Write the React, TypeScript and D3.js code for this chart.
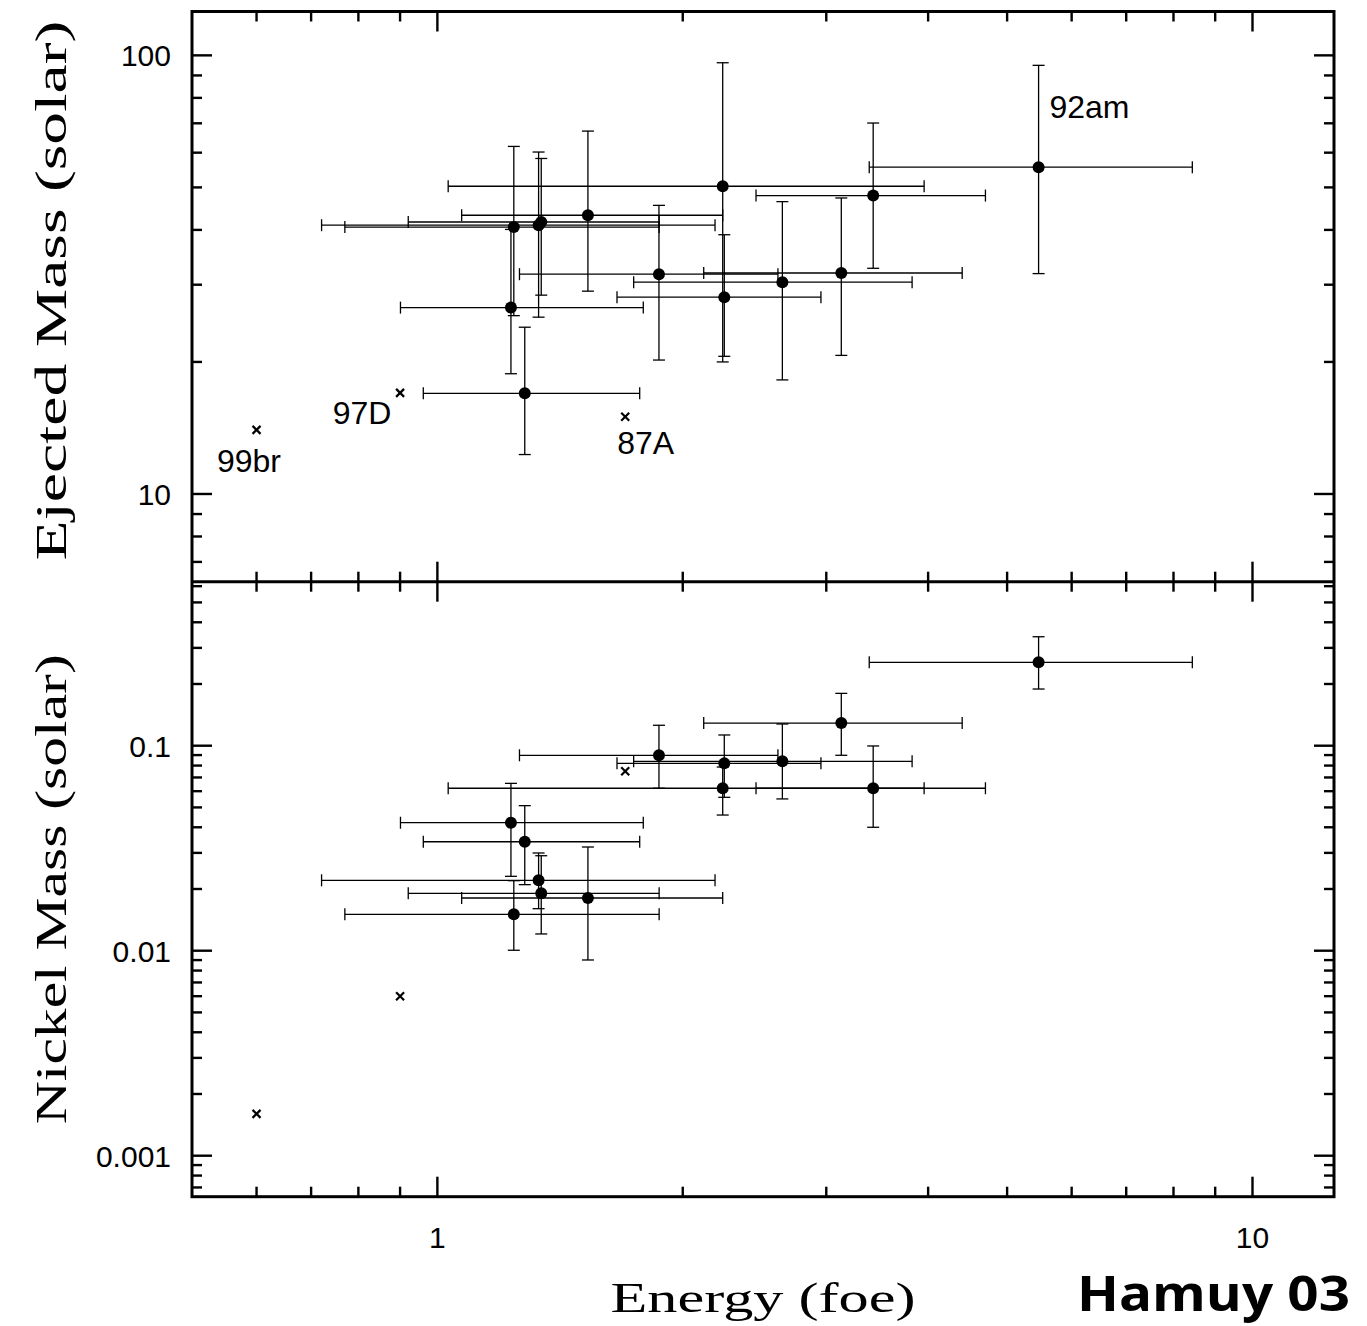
import React from "react";
import * as d3 from "d3";

// ---- Data ----
const energy = [1.241, 1.231, 1.331, 1.341, 1.53, 1.28, 1.87, 2.239, 2.249, 2.65, 3.13, 3.425, 5.465];
const energyLo = [0.77, 0.901, 0.721, 0.921, 1.071, 0.961, 1.261, 1.031, 1.661, 1.741, 2.122, 2.46, 3.387];
const energyHi = [1.871, 1.789, 2.191, 1.871, 2.239, 1.771, 2.617, 3.955, 2.955, 3.823, 4.404, 4.703, 8.437];
const ejMass = [40.6, 26.6, 41.0, 41.7, 43.2, 16.96, 31.7, 50.3, 28.1, 30.4, 31.9, 47.9, 55.6];
const ejMassLo = [25.5, 18.8, 25.3, 28.4, 29.0, 12.3, 20.2, 20.0, 20.6, 18.2, 20.7, 32.7, 31.8];
const ejMassHi = [62.0, 40.1, 60.2, 58.2, 67.2, 24.0, 45.5, 96.2, 39.0, 46.4, 47.3, 70.1, 94.9];
const niMass = [0.01505, 0.0421, 0.02205, 0.01905, 0.01807, 0.034, 0.0898, 0.062, 0.082, 0.0839, 0.129, 0.062, 0.255];
const niLo = [0.01005, 0.02306, 0.01603, 0.01207, 0.00901, 0.021, 0.062, 0.0459, 0.056, 0.055, 0.0898, 0.04, 0.189];
const niHi = [0.02196, 0.0655, 0.02997, 0.02906, 0.03205, 0.051, 0.1258, 0.0787, 0.1128, 0.1276, 0.18, 0.0997, 0.34];

const specialNames = ["99br", "97D", "87A"];
const specialEnergy = [0.6, 0.9, 1.7];
const specialEj = [14, 17, 15];
const specialNi = [0.0016, 0.006, 0.075];

const xTickLabels = ["1", "10"];
const xTickValues = [1, 10];
const ejTickLabels = ["10", "100"];
const ejTickValues = [10, 100];
const niTickLabels = ["0.1", "0.01", "0.001"];
const niTickValues = [0.1, 0.01, 0.001];

// ---- Layout ----
const W = 1367;
const H = 1326;
const L = 192;
const R = 1334;
const T = 11.5;
const MID = 581.7;
const B = 1196.7;

const x = d3.scaleLog().domain([0.5, Math.pow(10, 1.1)]).range([L, R]);
const yTop = d3.scaleLog().domain([Math.pow(10, 0.8), Math.pow(10, 2.1)]).range([MID, T]);
const yBot = d3.scaleLog().domain([Math.pow(10, -3.2), Math.pow(10, -0.2)]).range([B, MID]);

function logTicks(domain: number[]) {
  const [a, b] = domain;
  const out: { v: number; major: boolean }[] = [];
  for (let k = Math.floor(Math.log10(a)) - 1; k <= Math.ceil(Math.log10(b)); k++) {
    for (let m = 1; m <= 9; m++) {
      const v = m * Math.pow(10, k);
      if (v >= a * 1.0001 && v <= b * 0.9999) out.push({ v, major: m === 1 });
    }
  }
  return out;
}

const MAJ = 20;
const MIN = 10;
const FONT = "'Liberation Sans', Arial, Helvetica, sans-serif";
const TITLEFONT = "'Liberation Serif', 'DejaVu Serif', serif";

function Panel({ y, top, bottom }: { y: any; top: number; bottom: number }) {
  const xt = logTicks(x.domain());
  const yt = logTicks(y.domain());
  return (
    <g>
      {xt.map((t, i) => (
        <g key={"x" + i} stroke="#000" strokeWidth={2.4}>
          <line x1={x(t.v)} x2={x(t.v)} y1={top} y2={top + (t.major ? MAJ : MIN)} />
          <line x1={x(t.v)} x2={x(t.v)} y1={bottom} y2={bottom - (t.major ? MAJ : MIN)} />
        </g>
      ))}
      {yt.map((t, i) => (
        <g key={"y" + i} stroke="#000" strokeWidth={2.4}>
          <line x1={L} x2={L + (t.major ? MAJ : MIN)} y1={y(t.v)} y2={y(t.v)} />
          <line x1={R} x2={R - (t.major ? MAJ : MIN)} y1={y(t.v)} y2={y(t.v)} />
        </g>
      ))}
    </g>
  );
}

function ErrorBars({ y, vals, lo, hi }: { y: any; vals: number[]; lo: number[]; hi: number[] }) {
  const cap = 6;
  return (
    <g stroke="#000" strokeWidth={1.3} fill="none">
      {energy.map((e, i) => {
        const cx = x(e);
        const cy = y(vals[i]);
        const x0 = x(energyLo[i]);
        const x1 = x(energyHi[i]);
        const y0 = y(lo[i]);
        const y1 = y(hi[i]);
        return (
          <g key={i}>
            <line x1={x0} x2={x1} y1={cy} y2={cy} />
            <line x1={x0} x2={x0} y1={cy - cap} y2={cy + cap} />
            <line x1={x1} x2={x1} y1={cy - cap} y2={cy + cap} />
            <line x1={cx} x2={cx} y1={y0} y2={y1} />
            <line x1={cx - cap} x2={cx + cap} y1={y0} y2={y0} />
            <line x1={cx - cap} x2={cx + cap} y1={y1} y2={y1} />
          </g>
        );
      })}
      {energy.map((e, i) => (
        <circle key={"c" + i} cx={x(e)} cy={y(vals[i])} r={6} fill="#000" stroke="none" />
      ))}
    </g>
  );
}

function Cross({ cx, cy }: { cx: number; cy: number }) {
  const s = 4;
  return (
    <g stroke="#000" strokeWidth={2.2}>
      <line x1={cx - s} x2={cx + s} y1={cy - s} y2={cy + s} />
      <line x1={cx - s} x2={cx + s} y1={cy + s} y2={cy - s} />
    </g>
  );
}

const labelOffsets = [
  { dx: -39.6, dy: 42, anchor: "start" },
  { dx: -8.7, dy: 31, anchor: "end" },
  { dx: -8, dy: 37, anchor: "start" },
];

export default function App() {
  return (
    <svg
      width={W}
      height={H}
      viewBox={`0 0 ${W} ${H}`}
      style={{ display: "block", position: "absolute", left: 0, top: 0, background: "#fff" }}
    >
      <rect x={0} y={0} width={W} height={H} fill="#fff" />
      <Panel y={yTop} top={T} bottom={MID} />
      <Panel y={yBot} top={MID} bottom={B} />

      <ErrorBars y={yTop} vals={ejMass} lo={ejMassLo} hi={ejMassHi} />
      <ErrorBars y={yBot} vals={niMass} lo={niLo} hi={niHi} />

      {specialEnergy.map((e, i) => (
        <g key={"s" + i}>
          <Cross cx={x(e)} cy={yTop(specialEj[i])} />
          <Cross cx={x(e)} cy={yBot(specialNi[i])} />
          <text
            x={x(e) + labelOffsets[i].dx}
            y={yTop(specialEj[i]) + labelOffsets[i].dy}
            textAnchor={labelOffsets[i].anchor as any}
            fontFamily={FONT}
            fontSize={32}
          >
            {specialNames[i]}
          </text>
        </g>
      ))}
      <text x={x(energy[12]) + 10.8} y={yTop(ejMass[12]) - 49.3} fontFamily={FONT} fontSize={32}>
        92am
      </text>

      {/* frame */}
      <rect x={L} y={T} width={R - L} height={B - T} fill="none" stroke="#000" strokeWidth={3} />
      <line x1={L} x2={R} y1={MID} y2={MID} stroke="#000" strokeWidth={3} />

      {/* tick labels */}
      {xTickValues.map((v, i) => (
        <text key={"xl" + i} x={x(v)} y={1248} textAnchor="middle" fontFamily={FONT} fontSize={30}>
          {xTickLabels[i]}
        </text>
      ))}
      {ejTickValues.map((v, i) => (
        <text key={"el" + i} x={171} y={yTop(v) + 11} textAnchor="end" fontFamily={FONT} fontSize={30}>
          {ejTickLabels[i]}
        </text>
      ))}
      {niTickValues.map((v, i) => (
        <text key={"nl" + i} x={171} y={yBot(v) + 11} textAnchor="end" fontFamily={FONT} fontSize={30}>
          {niTickLabels[i]}
        </text>
      ))}

      {/* axis titles */}
      <text
        transform={`translate(66, ${(T + MID) / 2 - 6}) rotate(-90)`}
        textAnchor="middle"
        fontFamily={TITLEFONT}
        fontSize={44}
        textLength={540}
        lengthAdjust="spacingAndGlyphs"
      >
        Ejected Mass (solar)
      </text>
      <text
        transform={`translate(66, ${(MID + B) / 2}) rotate(-90)`}
        textAnchor="middle"
        fontFamily={TITLEFONT}
        fontSize={44}
        textLength={470}
        lengthAdjust="spacingAndGlyphs"
      >
        Nickel Mass (solar)
      </text>
      <text
        x={(L + R) / 2}
        y={1312}
        textAnchor="middle"
        fontFamily={TITLEFONT}
        fontSize={42}
        textLength={305}
        lengthAdjust="spacingAndGlyphs"
      >
        Energy (foe)
      </text>
      <text
        x={1350}
        y={1311}
        textAnchor="end"
        fontFamily="'Open Sans', sans-serif"
        fontWeight="bold"
        fontSize={49}
        textLength={273}
        lengthAdjust="spacingAndGlyphs"
      >
        Hamuy 03
      </text>
    </svg>
  );
}
